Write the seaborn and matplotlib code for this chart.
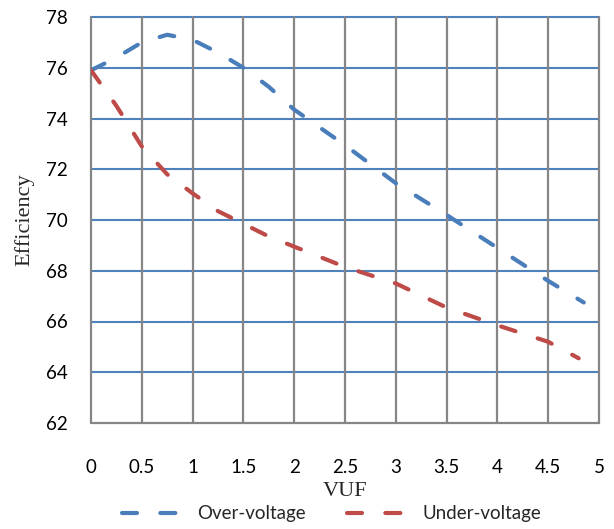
import matplotlib
matplotlib.use("Agg")
import matplotlib.pyplot as plt
import seaborn as sns
import pandas as pd
from matplotlib.lines import Line2D

# Data
over_x = [0, 0.25, 0.5, 0.75, 1, 1.25, 1.5, 1.75, 2, 2.5, 3, 3.5, 4, 4.5, 4.85]
over_y = [75.9, 76.4, 77.0, 77.3, 77.1, 76.6, 76.0, 75.25, 74.35, 72.95, 71.45, 70.2, 68.9, 67.6, 66.75]
under_x = [0, 0.25, 0.5, 0.75, 1, 1.25, 1.5, 1.75, 2, 2.5, 3, 3.5, 4, 4.5, 4.8]
under_y = [75.9, 74.5, 72.9, 71.8, 71.05, 70.35, 69.85, 69.35, 68.95, 68.15, 67.5, 66.55, 65.85, 65.2, 64.55]
series_names = ["Over-voltage", "Under-voltage"]
x_ticks = [0, 0.5, 1, 1.5, 2, 2.5, 3, 3.5, 4, 4.5, 5]
x_tick_labels = ["0", "0.5", "1", "1.5", "2", "2.5", "3", "3.5", "4", "4.5", "5"]
y_ticks = [62, 64, 66, 68, 70, 72, 74, 76, 78]

sns.set_style("white")
plt.rcParams["font.family"] = ["Lato", "DejaVu Sans"]

df = pd.concat([
    pd.DataFrame({"VUF": over_x, "Efficiency": over_y, "series": series_names[0]}),
    pd.DataFrame({"VUF": under_x, "Efficiency": under_y, "series": series_names[1]}),
])

fig = plt.figure(figsize=(6.14, 5.29), dpi=100)
ax = fig.add_axes([91/614, 1-423/529, (599-91)/614, (423-17)/529])

colors = {"Over-voltage": "#4A7EBB", "Under-voltage": "#BE4B48"}
LW = 3.0
DASH = (3.6, 5.6)
sns.lineplot(data=df, x="VUF", y="Efficiency", hue="series", palette=colors,
             ax=ax, sort=False, estimator=None, linewidth=LW, legend=False)
for line in ax.get_lines():
    line.set_dashes(DASH)
    line.set_dash_capstyle("round")
    line.set_zorder(5)

ax.set_xlim(0, 5)
ax.set_ylim(62, 78)
ax.set_xticks(x_ticks)
ax.set_xticklabels(x_tick_labels)
ax.set_yticks(y_ticks)

for s in ax.spines.values():
    s.set_visible(False)
ax.grid(False)
for yv in y_ticks[1:]:
    ax.axhline(yv, color="#4F81BD", linewidth=1.5, zorder=1, clip_on=False)
for xv in x_ticks:
    ax.axvline(xv, color="#868686", linewidth=1.6, zorder=2, clip_on=False)
ax.axhline(62, color="#868686", linewidth=1.6, zorder=2, clip_on=False)

ax.tick_params(axis="both", length=0, labelsize=13.5, colors="black")
ax.tick_params(axis="y", pad=17)
ax.tick_params(axis="x", pad=26)

ax.set_xlabel("VUF", family=["Liberation Serif"], fontsize=16, labelpad=4)
ax.set_ylabel("Efficiency", family=["Liberation Serif"], fontsize=16, labelpad=8)

handles = [Line2D([0], [0], color=colors[n], linewidth=LW, dashes=DASH,
                  dash_capstyle="round") for n in series_names]
fig.legend(handles, series_names, loc="center", bbox_to_anchor=(0.54, 1-514/529),
           ncol=2, frameon=False, fontsize=13.5, handlelength=3.2,
           columnspacing=2.2, handletextpad=0.8)

fig.savefig("out.png", dpi=100)
